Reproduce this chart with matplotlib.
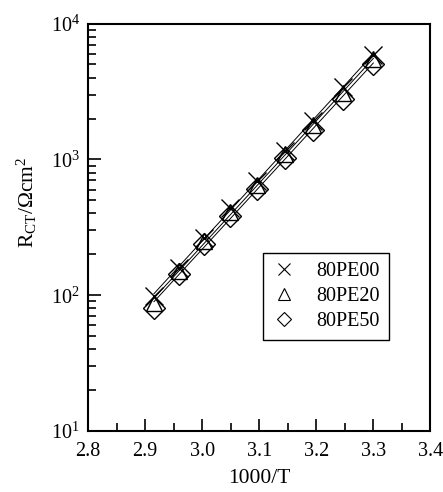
import numpy as np
import matplotlib.pyplot as plt
from matplotlib.lines import Line2D
from matplotlib.ticker import LogLocator, MultipleLocator, NullFormatter

plt.rcParams['font.family'] = 'Liberation Serif'
plt.rcParams['mathtext.fontset'] = 'custom'
plt.rcParams['mathtext.rm'] = 'Liberation Serif'
plt.rcParams['mathtext.it'] = 'Liberation Serif:italic'

# 1000/T for 70 C down to 30 C in 5 degree steps
temps = np.array([343, 338, 333, 328, 323, 318, 313, 308, 303])
inv_t = 1000.0 / temps

# charge transfer resistance, Ohm cm^2
r_pe00 = [99, 159, 265, 440, 697, 1158, 1928, 3400, 5900]
r_pe20 = [88, 150, 250, 410, 650, 1090, 1780, 3100, 5450]
r_pe50 = [80, 144, 239, 385, 608, 1030, 1660, 2800, 5070]

labels = ['80PE00', '80PE20', '80PE50']
markers = ['x', '^', 'D']

fig = plt.figure(figsize=(4.43, 4.92), dpi=100)
ax = fig.add_axes([0.199, 0.124, 0.772, 0.828])

for r, m in zip([r_pe00, r_pe20, r_pe50], markers):
    r = np.array(r, dtype=float)
    # Arrhenius fit: straight line in log(R) vs 1000/T
    k, b = np.polyfit(inv_t, np.log10(r), 1)
    xx = np.array([inv_t.min(), inv_t.max()])
    ax.plot(xx, 10 ** (k * xx + b), color='black', lw=0.7, zorder=2)
    if m == 'x':
        ax.plot(inv_t, r, ls='none', marker='x', ms=13, mew=1.0,
                color='black', zorder=3)
    else:
        ax.plot(inv_t, r, ls='none', marker=m, ms=12 if m == '^' else 11,
                mew=1.0, mfc='none', mec='black', zorder=3)

ax.set_yscale('log')
ax.set_xlim(2.8, 3.4)
ax.set_ylim(10, 1e4)
ax.xaxis.set_major_locator(MultipleLocator(0.1))
ax.xaxis.set_minor_locator(MultipleLocator(0.05))
ax.xaxis.set_major_formatter(plt.FormatStrFormatter('%.1f'))
ax.yaxis.set_major_locator(LogLocator(base=10, numticks=10))
ax.yaxis.set_minor_locator(LogLocator(base=10, subs=np.arange(2, 10), numticks=10))
ax.yaxis.set_minor_formatter(NullFormatter())

ax.tick_params(which='both', direction='in', top=False, right=False,
               labelsize=14.5, width=1.2)
ax.tick_params(which='major', length=9, pad=6)
ax.tick_params(which='minor', length=6)
ax.tick_params(axis='x', which='major', pad=8)
for s in ax.spines.values():
    s.set_linewidth(1.5)

ax.set_xlabel('1000/T', fontsize=15.5, labelpad=6)
ax.set_ylabel(r'R$_{\rm CT}$/$\Omega$cm$^2$', fontsize=15.5)
ax.yaxis.set_label_coords(-0.145, 0.56)

handles = [
    Line2D([], [], ls='none', marker='x', ms=9, mew=0.8, color='black'),
    Line2D([], [], ls='none', marker='^', ms=8, mew=0.8, mfc='none', mec='black'),
    Line2D([], [], ls='none', marker='D', ms=7, mew=0.8, mfc='none', mec='black'),
]
leg = ax.legend(handles, labels, loc='upper left', bbox_to_anchor=(0.512, 0.437),
                borderaxespad=0, fontsize=14.5, frameon=True, fancybox=False,
                framealpha=1, edgecolor='black', handletextpad=1.0,
                borderpad=0.45, labelspacing=0.3, handlelength=1.2)
leg.get_frame().set_linewidth(1.0)

fig.savefig('out.png', dpi=100)
